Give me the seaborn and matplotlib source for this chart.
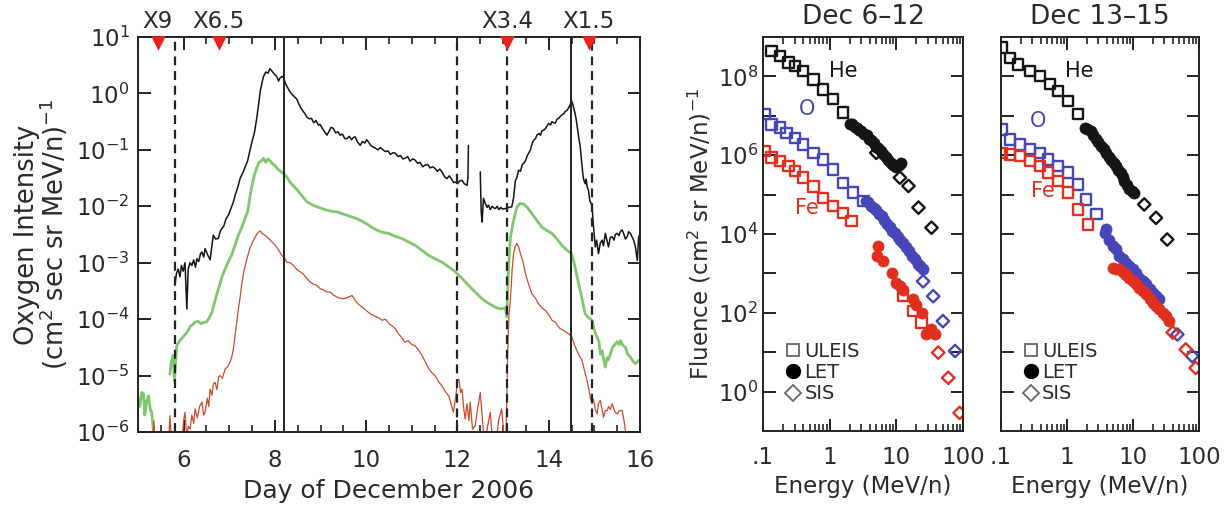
import numpy as np
import pandas as pd
import matplotlib
matplotlib.use("Agg")
import matplotlib.pyplot as plt
import matplotlib.ticker as mticker
from matplotlib.lines import Line2D
import seaborn as sns

# ---- left panel: oxygen intensity time series (log10 values) ----
black_day = [5.81, 5.84, 5.88, 5.92, 5.95, 5.99, 6.03, 6.07, 6.10, 6.14, 6.18, 6.22, 6.26, 6.29, 6.33,
             6.37, 6.40, 6.44, 6.47, 6.52, 6.58, 6.62, 6.65, 6.70, 6.76, 6.80, 6.83, 6.88, 6.93, 6.98,
             7.03, 7.08, 7.13, 7.18, 7.24, 7.30, 7.35, 7.40, 7.45, 7.50, 7.55, 7.60, 7.64, 7.68, 7.72,
             7.75, 7.80, 7.85, 7.89, 7.93, 7.97, 8.00, 8.04, 8.08, 8.11, 8.15, 8.19, 8.23, 8.28, 8.33,
             8.38, 8.43, 8.48, 8.52, 8.57, 8.62, 8.66, 8.70, 8.75, 8.80, 8.85, 8.90, 8.95, 8.99, 9.04,
             9.09, 9.14, 9.18, 9.23, 9.28, 9.33, 9.38, 9.43, 9.48, 9.53, 9.58, 9.63, 9.68, 9.72, 9.76,
             9.81, 9.87, 9.92, 9.97, 10.01, 10.05, 10.10, 10.15, 10.20, 10.26, 10.31, 10.37, 10.42,
             10.48, 10.53, 10.59, 10.64, 10.70, 10.75, 10.80, 10.85, 10.91, 10.96, 11.02, 11.07, 11.13,
             11.18, 11.24, 11.29, 11.35, 11.40, 11.46, 11.51, 11.56, 11.61, 11.66, 11.72, 11.77, 11.82,
             11.87, 11.92, 11.95, 12.00, 12.05, 12.10, 12.15, 12.21, 12.23, 12.24, 12.25,
             12.48, 12.50, 12.52, 12.54, 12.57, 12.61, 12.65, 12.68, 12.72, 12.76, 12.80, 12.83, 12.87,
             12.91, 12.95, 12.99, 13.04, 13.08, 13.12, 13.19, 13.23, 13.27, 13.30, 13.34, 13.38, 13.42,
             13.45, 13.50, 13.53, 13.56, 13.60, 13.63, 13.67, 13.71, 13.74, 13.78, 13.82, 13.85, 13.89,
             13.93, 13.96, 14.00, 14.04, 14.07, 14.11, 14.14, 14.18, 14.22, 14.25, 14.29, 14.33, 14.36,
             14.40, 14.44, 14.47, 14.50, 14.53, 14.56, 14.60, 14.63, 14.66, 14.69, 14.72, 14.75, 14.77,
             14.80, 14.82, 14.84, 14.87, 14.90, 14.93, 14.95, 14.98, 15.02, 15.05, 15.09, 15.13, 15.17,
             15.20, 15.24, 15.28, 15.31, 15.35, 15.39, 15.43, 15.46, 15.50, 15.54, 15.57, 15.61, 15.65,
             15.68, 15.72, 15.75, 15.79, 15.83, 15.86, 15.90, 15.94, 15.97, 16.00]
black_log = [-3.40, -3.20, -3.11, -3.25, -3.05, -3.15, -3.00, -3.82, -3.11, -3.00, -3.05, -2.95, -3.08, -2.93, -2.98,
             -2.84, -2.81, -2.90, -2.75, -2.85, -2.95, -2.70, -2.51, -2.58, -2.57, -2.45, -2.40, -2.35, -2.22, -2.16,
             -2.05, -1.95, -1.80, -1.68, -1.50, -1.40, -1.30, -1.20, -1.02, -0.85, -0.70, -0.45, -0.21, 0.05, 0.20,
             0.30, 0.38, 0.36, 0.44, 0.40, 0.36, 0.33, 0.30, 0.22, 0.27, 0.30, 0.28, 0.18, 0.10, 0.03,
             -0.02, -0.06, -0.10, -0.18, -0.26, -0.32, -0.36, -0.42, -0.45, -0.44, -0.52, -0.48, -0.56, -0.55, -0.62,
             -0.68, -0.74, -0.68, -0.60, -0.62, -0.70, -0.68, -0.74, -0.72, -0.80, -0.80, -0.76, -0.82, -0.78, -0.77,
             -0.86, -0.92, -0.85, -0.88, -0.82, -0.86, -0.92, -0.95, -0.97, -1.00, -0.96, -1.00, -1.03,
             -1.02, -1.08, -1.05, -1.06, -1.12, -1.10, -1.16, -1.15, -1.12, -1.20, -1.16, -1.18, -1.24,
             -1.22, -1.30, -1.27, -1.26, -1.32, -1.30, -1.33, -1.38, -1.34, -1.39, -1.48, -1.51, -1.46,
             -1.52, -1.58, -1.57, -1.60, -1.55, -1.54, -1.60, -1.63, -1.50, -0.92, np.nan,
             np.nan, -1.39, -2.10, -2.28, -1.86, -1.95, -2.02, -1.98, -2.06, -2.00, -2.03, -2.04, -2.00,
             -2.06, -2.02, -2.05, -2.04, -2.04, -2.02, -2.01, -1.85, -1.54, -1.50, -1.36, -1.38, -1.26,
             -1.24, -1.18, -1.10, -1.06, -1.00, -0.90, -0.83, -0.80, -0.74, -0.71, -0.74, -0.66, -0.65,
             -0.62, -0.58, -0.53, -0.56, -0.50, -0.52, -0.53, -0.46, -0.44, -0.41, -0.38, -0.36, -0.32,
             -0.30, -0.25, -0.20, -0.13, -0.20, -0.30, -0.45, -0.62, -0.80, -0.94, -1.20, -1.45, -1.54,
             -1.60, -1.52, -1.65, -1.72, -1.90, -1.95, -2.01, -2.35, -2.72, -2.60, -2.84, -2.65, -2.60,
             -2.70, -2.48, -2.62, -2.72, -2.55, -2.54, -2.60, -2.50, -2.48, -2.52, -2.45, -2.42, -2.50,
             -2.58, -2.54, -2.45, -2.48, -2.55, -2.60, -2.72, -2.96, -2.55, -2.48]

green_day = [5.00, 5.04, 5.08, 5.12, 5.15, 5.19, 5.23, 5.27, 5.30, 5.33, 5.36, 5.40,
             5.70, 5.73, 5.77, 5.80, 5.82, 5.85, 5.90, 5.95, 6.00, 6.05, 6.10, 6.15, 6.20, 6.25, 6.32,
             6.38, 6.44, 6.50, 6.56, 6.62, 6.68, 6.73, 6.78, 6.84, 6.91, 6.98, 7.05, 7.12, 7.20, 7.27,
             7.35, 7.40, 7.45, 7.50, 7.55, 7.60, 7.65, 7.70, 7.75, 7.80, 7.85, 7.90, 7.95, 8.00, 8.05,
             8.12, 8.19, 8.26, 8.33, 8.42, 8.52, 8.61, 8.70, 8.81, 8.92, 9.03, 9.14, 9.25, 9.36, 9.47,
             9.58, 9.69, 9.80, 9.90, 10.01, 10.12, 10.23, 10.35, 10.49, 10.63, 10.78, 10.92, 11.07,
             11.22, 11.37, 11.51, 11.66, 11.80, 11.95, 12.10, 12.24, 12.39, 12.54, 12.68, 12.83, 12.95,
             13.05, 13.08, 13.12, 13.16, 13.23, 13.30, 13.37, 13.45, 13.53, 13.63, 13.74, 13.85, 13.96,
             14.07, 14.18, 14.29, 14.40, 14.50, 14.54, 14.58, 14.63, 14.69, 14.75, 14.80, 14.88, 14.95,
             15.00, 15.06, 15.10, 15.13, 15.17, 15.20, 15.24, 15.28, 15.31, 15.35, 15.40, 15.46, 15.50,
             15.54, 15.57, 15.62, 15.68, 15.73, 15.79, 15.85, 15.90, 15.97, 16.00]
green_log = [-5.40, -5.55, -5.30, -5.32, -5.70, -5.45, -5.36, -5.60, -5.65, -5.90, -6.30, np.nan,
             -4.97, -4.75, -4.64, -5.10, -4.80, -4.47, -4.40, -4.35, -4.30, -4.26, -4.20, -4.12, -4.10, -4.05, -4.04,
             -4.08, -4.06, -4.05, -3.98, -3.88, -3.70, -3.55, -3.42, -3.25, -3.11, -2.98, -2.87, -2.70, -2.51, -2.38,
             -2.20, -2.10, -1.85, -1.62, -1.45, -1.32, -1.22, -1.20, -1.15, -1.22, -1.16, -1.20, -1.25, -1.28, -1.33,
             -1.38, -1.42, -1.48, -1.57, -1.65, -1.74, -1.83, -1.92, -1.97, -2.01, -2.04, -2.07, -2.09, -2.10, -2.13,
             -2.16, -2.19, -2.22, -2.26, -2.31, -2.37, -2.42, -2.46, -2.48, -2.53, -2.57, -2.63, -2.69,
             -2.78, -2.87, -2.93, -2.99, -3.07, -3.16, -3.28, -3.40, -3.52, -3.64, -3.72, -3.79, -3.82,
             -3.80, -3.96, -3.08, -2.55, -2.25, -2.02, -1.95, -1.96, -2.02, -2.13, -2.25, -2.37, -2.43,
             -2.48, -2.58, -2.69, -2.78, -2.84, -2.95, -3.08, -3.28, -3.49, -3.72, -3.91, -3.98, -4.02,
             -4.20, -4.32, -4.40, -4.62, -4.56, -4.70, -4.85, -4.68, -4.72, -4.62, -4.50, -4.44, -4.40,
             -4.45, -4.38, -4.46, -4.50, -4.62, -4.67, -4.75, -4.79, -4.73, -4.75]

red_day = [5.30, 5.35, 5.38, 5.40, 5.66, 5.70, 5.74, 5.76,
           5.95, 6.00, 6.03, 6.07, 6.10, 6.14, 6.18, 6.22, 6.25, 6.30, 6.35, 6.40, 6.44, 6.47, 6.52,
           6.55, 6.58, 6.62, 6.65, 6.69, 6.73, 6.77, 6.80, 6.85, 6.91, 6.96, 7.02, 7.06, 7.09, 7.14,
           7.20, 7.24, 7.27, 7.32, 7.38, 7.45, 7.53, 7.60, 7.65, 7.68, 7.72, 7.79, 7.85, 7.90, 7.97,
           8.04, 8.10, 8.15, 8.20, 8.26, 8.33, 8.41, 8.48, 8.55, 8.62, 8.70, 8.77, 8.84, 8.92, 8.99,
           9.06, 9.14, 9.21, 9.28, 9.36, 9.43, 9.50, 9.58, 9.64, 9.69, 9.75, 9.81, 9.87, 9.93, 9.99,
           10.05, 10.12, 10.20, 10.28, 10.35, 10.42, 10.50, 10.57, 10.64, 10.70, 10.77, 10.85, 10.92,
           11.00, 11.07, 11.15, 11.22, 11.30, 11.37, 11.44, 11.51, 11.58, 11.66, 11.73, 11.81, 11.86,
           11.91, 11.96, 12.00, 12.03, 12.07, 12.10, 12.14, 12.17, 12.21, 12.25, 12.28, 12.33, 12.39,
           12.44, 12.50, 12.55, 12.60, 12.66, 12.72, 12.77, 12.84, 12.90, 12.97, 13.02, 13.06, 13.10,
           13.13, 13.16, 13.20, 13.23, 13.27, 13.30, 13.34, 13.38, 13.44, 13.49, 13.56, 13.63, 13.70,
           13.78, 13.85, 13.93, 14.00, 14.07, 14.14, 14.20, 14.25, 14.33, 14.40, 14.44, 14.51, 14.56,
           14.62, 14.67, 14.73, 14.78, 14.84, 14.88, 14.91, 14.95, 14.98, 15.02, 15.06, 15.09, 15.13,
           15.17, 15.20, 15.24, 15.28, 15.31, 15.35, 15.39, 15.43, 15.46, 15.50, 15.55, 15.61, 15.65,
           15.68, 15.72]
red_log = [-6.30, -5.80, -6.30, np.nan, -6.30, -5.71, -6.30, np.nan,
           -6.30, -5.80, -5.65, -6.10, -5.90, -5.95, -5.70, -5.85, -5.59, -5.75, -5.55, -5.47, -5.70, -5.65, -5.40,
           -5.55, -5.24, -5.35, -5.15, -5.12, -5.25, -5.02, -5.00, -5.05, -4.88, -4.85, -4.76, -4.65, -4.53, -4.20,
           -3.82, -3.60, -3.40, -3.15, -2.95, -2.75, -2.60, -2.50, -2.45, -2.44, -2.48, -2.52, -2.56, -2.60, -2.66,
           -2.72, -2.80, -2.87, -2.90, -2.99, -3.00, -3.05, -3.12, -3.16, -3.20, -3.28, -3.34, -3.38, -3.40, -3.46,
           -3.48, -3.52, -3.52, -3.57, -3.61, -3.63, -3.64, -3.62, -3.60, -3.58, -3.66, -3.72, -3.76, -3.80, -3.84,
           -3.88, -3.92, -3.95, -3.98, -4.02, -4.00, -4.08, -4.12, -4.17, -4.25, -4.32, -4.41, -4.38,
           -4.45, -4.47, -4.55, -4.64, -4.76, -4.88, -4.95, -5.00, -5.10, -5.18, -5.28, -5.36, -5.50,
           -5.65, -5.40, -5.10, -5.06, -5.30, -5.24, -5.60, -5.77, -5.50, -5.80, -5.47, -5.95, -5.89,
           -5.60, -5.30, -5.80, -6.30, -5.90, -5.65, -6.20, -6.30, -5.80, -5.59, -6.10, -6.30, -4.60,
           -3.90, -3.67, -3.10, -2.84, -2.70, -2.66, -2.72, -2.84, -3.00, -3.19, -3.38, -3.55, -3.62,
           -3.73, -3.80, -3.85, -3.92, -4.02, -4.05, -4.12, -4.17, -4.20, -4.24, -4.26, -4.32, -4.45,
           -4.56, -4.65, -4.73, -4.90, -5.09, -5.25, -5.39, -5.50, -5.42, -5.60, -5.68, -5.50, -5.44,
           -5.60, -5.74, -5.62, -5.62, -5.55, -5.60, -5.50, -5.60, -5.65, -5.68, -5.62, -5.62, -5.80,
           -5.98, -6.30]

shock_days = [5.81, 11.98, 13.09, 14.94]   # dashed
icme_days = [8.19, 14.48]                   # solid
flare_days = [5.43, 6.77, 13.09, 14.88]
flare_names = ["X9", "X6.5", "X3.4", "X1.5"]

# ---- right panels: fluence spectra (energy MeV/n, log10 fluence) ----
p1 = {
    ("He", "ULEIS"): ([0.135, 0.18, 0.24, 0.30, 0.40, 0.57, 0.80, 1.13, 1.6],
                      [8.64, 8.52, 8.35, 8.26, 8.13, 7.92, 7.67, 7.42, 7.08]),
    ("He", "LET"): ([2.0, 2.2, 2.4, 2.6, 2.8, 3.0, 3.3, 3.6, 3.9, 4.2, 4.6, 5.0, 5.4, 5.9, 6.4, 7.0, 7.6,
                     8.3, 9.0, 10.0, 11.0, 11.7],
                    [6.80, 6.78, 6.72, 6.70, 6.64, 6.62, 6.55, 6.50, 6.42, 6.38, 6.30, 6.22, 6.18, 6.10,
                     6.02, 5.95, 5.88, 5.80, 5.76, 5.70, 5.74, 5.80]),
    ("He", "SIS"): ([5.0, 11.3, 15.2, 21.5, 33.7], [6.06, 5.43, 5.22, 4.67, 4.16]),
    ("O", "ULEIS"): ([0.107, 0.135, 0.18, 0.226, 0.30, 0.40, 0.57, 0.80, 1.13, 1.6, 2.26, 3.2],
                     [7.04, 6.78, 6.70, 6.57, 6.44, 6.27, 6.06, 5.89, 5.64, 5.30, 5.05, 4.83]),
    ("O", "LET"): ([3.5, 3.8, 4.2, 4.6, 5.0, 5.5, 6.0, 6.6, 7.2, 7.9, 8.7, 9.5, 10.5, 11.5, 12.6, 14.0,
                    15.5, 17.0, 19.0, 21.0, 23.0, 25.0],
                   [4.85, 4.80, 4.72, 4.65, 4.60, 4.50, 4.45, 4.35, 4.25, 4.18, 4.08, 4.02, 3.92, 3.86,
                    3.78, 3.66, 3.56, 3.45, 3.36, 3.25, 3.18, 3.10]),
    ("O", "SIS"): ([25.2, 35.7, 50.0, 76.0], [2.80, 2.42, 1.79, 1.03]),
    ("Fe", "ULEIS"): ([0.107, 0.135, 0.18, 0.24, 0.30, 0.40, 0.57, 0.80, 1.13, 1.6, 2.14, 12.6, 17.8, 23.9],
                      [6.10, 5.94, 5.85, 5.72, 5.60, 5.43, 5.21, 4.92, 4.71, 4.54, 4.33, 2.42, 2.04, 1.75]),
    ("Fe", "LET"): ([5.07, 5.4, 6.3, 8.5, 10.0, 11.2, 12.6, 17.8, 20.0, 23.9, 28.2, 33.5, 38.0],
                    [3.44, 3.69, 3.31, 3.02, 2.76, 2.68, 2.59, 2.34, 2.21, 2.00, 1.45, 1.58, 1.45]),
    ("Fe", "SIS"): ([42.5, 60.0, 89.0], [0.99, 0.35, -0.54]),
}
p2 = {
    ("He", "ULEIS"): ([0.102, 0.137, 0.182, 0.274, 0.387, 0.548, 0.731, 1.04, 1.47],
                      [8.73, 8.47, 8.30, 8.13, 8.01, 7.80, 7.63, 7.37, 7.04]),
    ("He", "LET"): ([1.85, 2.0, 2.33, 2.5, 2.78, 3.0, 3.30, 3.6, 3.93, 4.3, 4.67, 5.1, 5.56, 6.0, 6.6,
                     7.0, 7.4, 8.0, 8.8, 9.6, 10.5],
                    [6.70, 6.66, 6.61, 6.50, 6.40, 6.33, 6.23, 6.15, 6.06, 5.96, 5.89, 5.80, 5.72, 5.62,
                     5.56, 5.45, 5.34, 5.25, 5.13, 5.10, 5.05]),
    ("He", "SIS"): ([14.8, 22.3, 33.0], [4.75, 4.41, 3.86]),
    ("O", "ULEIS"): ([0.102, 0.137, 0.194, 0.274, 0.387, 0.516, 0.731, 1.04, 1.47, 1.96, 2.78],
                     [6.65, 6.40, 6.27, 6.15, 6.06, 5.89, 5.72, 5.56, 5.26, 4.88, 4.50]),
    ("O", "LET"): ([3.7, 3.93, 4.4, 4.9, 5.56, 6.2, 7.0, 7.9, 8.8, 9.9, 11.0, 12.5, 14.0, 15.7, 17.8,
                    19.9, 22.0, 25.0],
                   [4.03, 4.12, 3.86, 3.69, 3.61, 3.44, 3.36, 3.27, 3.18, 3.10, 3.00, 2.89, 2.80, 2.72,
                    2.60, 2.51, 2.42, 2.34]),
    ("O", "SIS"): ([47.0, 79.0], [1.45, 0.90]),
    ("Fe", "ULEIS"): ([0.102, 0.137, 0.194, 0.274, 0.387, 0.516, 0.731, 1.04, 1.47, 2.07],
                      [6.06, 6.02, 5.98, 5.85, 5.72, 5.56, 5.34, 5.05, 4.62, 4.24]),
    ("Fe", "LET"): ([4.9, 5.5, 6.2, 7.0, 7.9, 8.8, 9.9, 11.0, 12.5, 14.0, 15.7, 17.8, 20.0, 22.5, 25.0,
                     28.0, 31.6, 35.5],
                    [3.14, 3.12, 3.10, 3.04, 2.97, 2.88, 2.80, 2.72, 2.64, 2.55, 2.47, 2.36, 2.26, 2.18,
                     2.09, 2.00, 1.92, 1.79]),
    ("Fe", "SIS"): ([40.0, 63.0, 89.0], [1.50, 1.07, 0.60]),
}
# label positions (energy, log10 fluence) for the species names
p1_labels = {"He": (1.6, 8.13), "O": (0.46, 7.16), "Fe": (0.46, 4.67)}
p2_labels = {"He": (1.55, 8.13), "O": (0.36, 6.86), "Fe": (0.43, 5.08)}

species_colors = {"He": "#151515", "O": "#4646b8", "Fe": "#e2301f"}
black_c, green_c, red_c = "#141414", "#80c86e", "#cf4a2c"
axis_c = "#222222"
text_c = "#2a2a2a"

sns.set_style("ticks")
plt.rcParams["font.family"] = ["DejaVu Sans"]
plt.rcParams["mathtext.default"] = "regular"

fig = plt.figure(figsize=(12.29, 5.05), dpi=100)
W, H = 1229, 505


def box(x0, x1, y0, y1):
    return [x0 / W, 1 - y1 / H, (x1 - x0) / W, (y1 - y0) / H]


def style_axes(ax):
    for sp in ax.spines.values():
        sp.set_color(axis_c)
        sp.set_linewidth(1.4)
    ax.tick_params(which="both", direction="in", top=True, right=True, bottom=True, left=True,
                   color=axis_c, labelcolor=text_c)
    ax.tick_params(which="major", length=9, width=1.4)
    ax.tick_params(which="minor", length=5, width=1.2)


def series_frame(days, logs):
    df = pd.DataFrame({"day": days, "lg": logs})
    df["seg"] = df["lg"].isna().cumsum()
    df = df.dropna()
    df["val"] = 10.0 ** df["lg"]
    return df


# ---------------- left panel ----------------
ax = fig.add_axes(box(138, 640, 37, 432))
ax.set_yscale("log")
for days, logs, c, lw in [(black_day, black_log, black_c, 1.1),
                          (green_day, green_log, green_c, 2.0),
                          (red_day, red_log, red_c, 0.9)]:
    d = series_frame(days, logs)
    sns.lineplot(data=d, x="day", y="val", units="seg", estimator=None, sort=False,
                 color=c, lw=lw, ax=ax)
for xd in shock_days:
    ax.axvline(xd, color=axis_c, lw=1.6, ls=(0, (4, 2.6)))
for xd in icme_days:
    ax.axvline(xd, color=axis_c, lw=1.4)
ax.set_xlim(5, 16)
ax.set_ylim(1e-6, 1e1)
style_axes(ax)
ax.xaxis.set_major_locator(mticker.MultipleLocator(2))
ax.xaxis.set_minor_locator(mticker.MultipleLocator(0.5))
ax.yaxis.set_major_locator(mticker.LogLocator(base=10, numticks=20))
ax.yaxis.set_minor_locator(mticker.NullLocator())
ax.tick_params(labelsize=16.5)
ax.tick_params(axis="x", pad=12)
ax.tick_params(axis="y", pad=6)
ax.set_xlabel("Day of December 2006", fontsize=18, labelpad=5, color=text_c)
ax.set_ylabel("Oxygen Intensity\n(cm$^{2}$ sec sr MeV/n)$^{-1}$", fontsize=18.5, labelpad=4,
              linespacing=0.9, color=text_c)
ax.scatter(flare_days, [0.986] * len(flare_days), marker="v", s=110, color="#e8231c",
           transform=ax.get_xaxis_transform(), clip_on=False, zorder=5, linewidths=0)
for xd, name in zip(flare_days, flare_names):
    ax.text(xd, 1.01, name, transform=ax.get_xaxis_transform(), ha="center", va="bottom",
            fontsize=16.5, color=text_c)


# ---------------- right panels ----------------
def spectrum_panel(rect, data, labels, title, ylabel):
    a = fig.add_axes(rect)
    a.set_xscale("log")
    a.set_yscale("log")
    for (sp, inst), (e, lg) in data.items():
        c = species_colors[sp]
        f = [10.0 ** v for v in lg]
        if inst == "LET":
            sns.scatterplot(x=e, y=f, marker="o", s=64, color=c, edgecolor=c, linewidth=0.5,
                            ax=a, zorder=3)
        else:
            mk = "s" if inst == "ULEIS" else "D"
            sz = 56 if inst == "ULEIS" else 40
            sns.scatterplot(x=e, y=f, marker=mk, s=sz, color=c, facecolor="none", edgecolor=c,
                            linewidth=1.7, ax=a, zorder=2)
    for sp, (e, lg) in labels.items():
        a.text(e, 10.0 ** lg, sp, color=species_colors[sp], fontsize=15, ha="center", va="center")
    a.set_xlim(0.1, 100)
    a.set_ylim(1e-1, 1e9)
    style_axes(a)
    a.xaxis.set_major_locator(mticker.FixedLocator([0.1, 1, 10, 100]))
    a.xaxis.set_major_formatter(mticker.FixedFormatter([".1", "1", "10", "100"]))
    a.xaxis.set_minor_locator(mticker.LogLocator(base=10, subs=np.arange(2, 10), numticks=20))
    a.xaxis.set_minor_formatter(mticker.NullFormatter())
    # labelled ticks every second decade, unlabelled ticks of equal length in between
    a.yaxis.set_major_locator(mticker.FixedLocator([1e0, 1e2, 1e4, 1e6, 1e8]))
    a.yaxis.set_minor_locator(mticker.FixedLocator([1e1, 1e3, 1e5, 1e7]))
    a.yaxis.set_minor_formatter(mticker.NullFormatter())
    a.tick_params(axis="y", which="minor", length=9, width=1.4)
    if ylabel:
        a.yaxis.set_major_formatter(mticker.LogFormatterSciNotation())
        a.set_ylabel(ylabel, fontsize=16.5, labelpad=3, color=text_c)
    else:
        a.yaxis.set_major_formatter(mticker.NullFormatter())
    a.tick_params(labelsize=16.5)
    a.tick_params(axis="x", pad=11)
    a.set_xlabel("Energy (MeV/n)", fontsize=16.5, labelpad=4, color=text_c)
    a.set_title(title, fontsize=19, pad=9, color=text_c)
    handles = [Line2D([], [], ls="none", marker="s", ms=8, mfc="none", mec="#666666", mew=1.3),
               Line2D([], [], ls="none", marker="o", ms=10, mfc="black", mec="black"),
               Line2D([], [], ls="none", marker="D", ms=8, mfc="none", mec="#666666", mew=1.3)]
    leg = a.legend(handles, ["ULEIS", "LET", "SIS"], loc="lower left", bbox_to_anchor=(0.11, 0.07),
                   frameon=False, fontsize=14, handlelength=0.8, handletextpad=0.2,
                   labelspacing=0.12, borderaxespad=0, borderpad=0)
    for t in leg.get_texts():
        t.set_color(text_c)
    return a


spectrum_panel(box(763, 963, 37, 431), p1, p1_labels, "Dec 6\u201312",
               "Fluence (cm$^{2}$ sr MeV/n)$^{-1}$")
spectrum_panel(box(1001, 1199, 37, 431), p2, p2_labels, "Dec 13\u201315", None)

fig.savefig("out.png", dpi=100)
